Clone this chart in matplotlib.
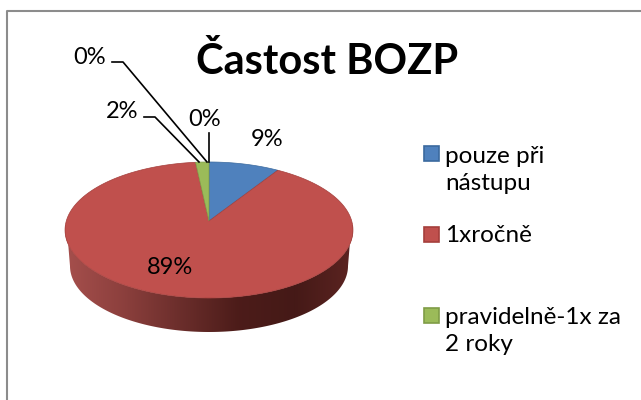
import numpy as np
from matplotlib import pyplot as plt
from matplotlib.patches import Polygon, Rectangle

categories = ['pouze při\nnástupu', '1xročně', 'pravidelně-1x za\n2 roky', 'jiné', 'nikdy']
values = [9.0, 89.3, 1.7, 0.0, 0.0]
labels = ['9%', '89%', '2%', '0%', '0%']
colors = ['#4F81BD', '#C0504D', '#9BBB59']
edges = ['#3B6A9E', '#A53F3C', '#7F9C46']

plt.rcParams['font.family'] = ['Lato', 'DejaVu Sans']

# pixel coordinates, same as the reference image
fig = plt.figure(figsize=(6.41, 4.0), dpi=100)
ax = fig.add_axes([0, 0, 1, 1])
ax.set_xlim(0, 641)
ax.set_ylim(400, 0)
ax.axis('off')

cx, r = 209, 142.7
k, a, b = 0.1324, -37.56, 221


def project(theta):
    # circle to tilted ellipse, theta clockwise from the top
    u, v = np.sin(theta), np.cos(theta)
    w = 1 + k * v
    return cx + r * u / w, (a * v + b) / w


# side wall, with the gradient clipped to it
th = np.linspace(np.pi / 2 + 0.0, 3 * np.pi / 2, 200)
xt, yt = project(th)
xb = cx + 139 * np.sin(th)
yb = 266 - 66 * np.cos(th)
wall = Polygon(np.r_[np.c_[xt, yt], np.c_[xb, yb][::-1]], closed=True, fc='none', ec='none')
ax.add_patch(wall)
grad = np.array([[0.65, 0.31, 0.30], [0.55, 0.25, 0.24], [0.42, 0.18, 0.17],
                 [0.30, 0.11, 0.10], [0.27, 0.10, 0.09], [0.36, 0.14, 0.13]])
stops = np.linspace(0, 1, 6)
pos = np.linspace(0, 1, 300)
img = np.stack([np.interp(pos, stops, grad[:, i]) for i in range(3)], axis=-1)[None, :, :]
im = ax.imshow(img, extent=[65, 353, 340, 225], aspect='auto', zorder=1)
im.set_clip_path(wall)
ax.set_xlim(0, 641)
ax.set_ylim(400, 0)

# top of the pie
start = 0.0
total = sum(values)
for val, col, edge in zip(values[:3], colors, edges):
    ang = np.linspace(start, start + val / total * 2 * np.pi, 200)
    x, y = project(ang)
    pts = np.r_[[[cx, b]], np.c_[x, y]]
    ax.add_patch(Polygon(pts, closed=True, fc=col, ec=edge, lw=0.5, zorder=2))
    start = ang[-1]

# leader lines
ax.plot([112, 123, 207], [62, 62, 162], color='black', lw=1.2, zorder=3)
ax.plot([144, 155, 199], [117, 117, 162], color='black', lw=1.2, zorder=3)
ax.plot([209, 209], [133, 162], color='black', lw=1.2, zorder=3)

lab_pos = [(267, 140), (170, 268), (122, 112), (90, 57), (205, 119)]
for txt, (lx, ly) in zip(labels, lab_pos):
    ax.text(lx, ly, txt, fontsize=17, ha='center', va='center', color='black', zorder=4)

ax.text(327, 62, 'Častost BOZP', fontsize=30, fontweight='bold', ha='center', va='center')

# legend
leg_y = [153, 234, 315]
text_y = [170, 235, 331]
for name, col, edge, sy, ty in zip(categories[:3], colors, edges, leg_y, text_y):
    ax.add_patch(Rectangle((423.5, sy - 7.5), 15, 15, fc=col, ec=edge, lw=1.2))
    ax.text(445, ty, name, fontsize=17.5, ha='left', va='center', linespacing=1.4)

# frame
ax.plot([6.5, 6.5, 641], [400, 11, 11], color='#8C8C8C', lw=1.5)

fig.savefig('out.png', dpi=100)
